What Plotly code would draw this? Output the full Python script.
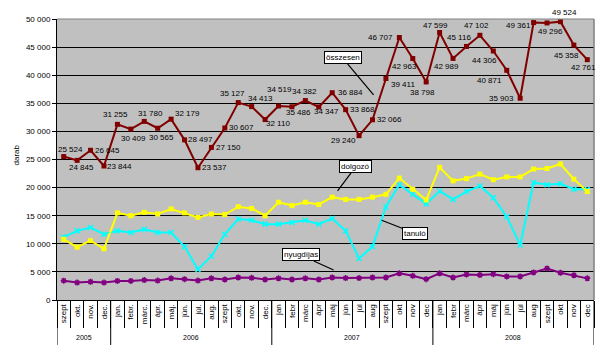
import plotly.graph_objects as go

# ---------------- data ----------------
months = ["szept", "okt.", "nov.", "dec.",
          "jan.", "febr.", "márc.", "ápr.", "máj.", "jún.", "júl.", "aug.", "szept", "okt.", "nov.", "dec.",
          "jan", "febr", "márc", "ápr", "máj", "jún", "júl", "aug", "szept", "okt", "nov", "dec",
          "jan", "febr", "márc", "ápr", "máj", "jún", "júl", "aug", "szept", "okt", "nov", "dec"]
years = ["2005", "2006", "2007", "2008"]
year_sizes = [4, 12, 12, 12]

osszesen = [25524, 24845, 26645, 23844,
            31255, 30409, 31780, 30565, 32179, 28497, 23537, 27150, 30607, 35127, 34413, 32110,
            34519, 34382, 35486, 34347, 36884, 33868, 29240, 32066, 39411, 46707, 42963, 38798,
            47599, 42989, 45116, 47102, 44306, 40871, 35903, 49361, 49296, 49524, 45358, 42761]
dolgozo = [10800, 9400, 10550, 9100,
           15500, 15000, 15600, 15300, 16200, 15500, 14700, 15300, 15200, 16600, 16300, 15000,
           17400, 16800, 17400, 17000, 18300, 17900, 17900, 18300, 18800, 21700, 19700, 17800,
           23600, 21200, 21600, 22400, 21400, 21900, 21900, 23300, 23400, 24200, 21500, 19300]
tanulo = [11200, 12300, 12900, 11700,
          12300, 12000, 12600, 12000, 12000, 9500, 5450, 7800, 11700, 14400, 14200, 13500,
          13500, 13800, 14200, 13500, 14500, 12300, 7400, 9500, 16600, 20500, 18800, 17100,
          19400, 17900, 19300, 20300, 18200, 14800, 9800, 20900, 20500, 20700, 19700, 19700]
nyugdijas = [3440, 3100, 3250, 3100,
             3400, 3400, 3550, 3450, 3850, 3700, 3450, 3850, 3650, 4000, 3950, 3650,
             3850, 3650, 3850, 3650, 4000, 3900, 3900, 4000, 4000, 4750, 4300, 3700,
             4750, 4000, 4550, 4450, 4600, 4200, 4200, 4900, 5600, 4850, 4400, 3850]

# pixel offsets of the total's data labels (style only)
label_offsets = [(7, -7), (4, 7), (17, 0), (16, 0),
                 (-2, -10), (3, 9), (6, -8), (4, 9), (16, -6), (16, 0), (17, 0), (17, 0),
                 (17, 0), (-6, -9), (9, -8), (13, 4),
                 (1, -17), (13, -15), (-7, 12), (8, 5), (18, 0), (17, 0), (-16, 5), (17, 0),
                 (17, 6), (-19, 0), (-8, 8), (-4, 11),
                 (-4, -7), (-7, 8), (-7, -9), (-3, -10), (-9, 9), (-17, 10), (-19, 0), (-15, 3),
                 (3, 9), (4, -9), (-7, 10), (-4, 8)]

FONT = "Liberation Sans, Arial, sans-serif"
x = list(range(len(months)))

fig = go.Figure()
fig.add_trace(go.Scatter(x=x, y=nyugdijas, mode="lines+markers", name="nyugdíjas",
                         line=dict(color="#800080", width=2),
                         marker=dict(symbol="asterisk-open", size=5, color="#800080",
                                     line=dict(color="#800080", width=1.5))))
fig.add_trace(go.Scatter(x=x, y=tanulo, mode="lines+markers", name="tanuló",
                         line=dict(color="#00FFFF", width=2),
                         marker=dict(symbol="x-thin-open", size=5, color="#00FFFF",
                                     line=dict(color="#00FFFF", width=1.5))))
fig.add_trace(go.Scatter(x=x, y=dolgozo, mode="lines+markers", name="dolgozó",
                         line=dict(color="#FFFF00", width=2),
                         marker=dict(symbol="square", size=5, color="#FFFF00")))
fig.add_trace(go.Scatter(x=x, y=osszesen, mode="lines+markers", name="összesen",
                         line=dict(color="#800000", width=2),
                         marker=dict(symbol="square", size=5, color="#800000")))

annotations = []
for i, v in enumerate(osszesen):
    dx, dy = label_offsets[i]
    annotations.append(dict(x=i, y=v, xref="x", yref="y", text=f"{v:,}".replace(",", " "),
                            showarrow=False, xshift=dx, yshift=-dy,
                            font=dict(family=FONT, size=8, color="black")))

# year labels
start = 0
for yr, n in zip(years, year_sizes):
    annotations.append(dict(x=start + (n - 1) / 2, y=-0.135, xref="x", yref="paper",
                            text=yr, showarrow=False, yanchor="middle",
                            font=dict(family=FONT, size=7, color="black")))
    start += n

# y-axis title
annotations.append(dict(x=0, y=0.5, xref="paper", yref="paper", text="darab", textangle=-90,
                        showarrow=False, xanchor="center", yanchor="middle", xshift=-41, yshift=4,
                        font=dict(family=FONT, size=8, color="black")))

# callouts
callouts = [("összesen", 23.08, 36500, -31, -37),
            ("dolgozó", 20.4, 19400, 18, -24),
            ("tanuló", 23.68, 14200, 33, 13),
            ("nyugdíjas", 20.1, 5340, -33, -15)]
for txt, cx, cy, ax, ay in callouts:
    annotations.append(dict(x=cx, y=cy, xref="x", yref="y", text=txt, showarrow=True,
                            arrowhead=0, arrowwidth=1.2, arrowcolor="black", ax=ax, ay=ay,
                            bgcolor="white", bordercolor="black", borderwidth=1, borderpad=1,
                            font=dict(family=FONT, size=8, color="black")))

shapes = []
# year dividers
bounds = [-0.5]
for n in year_sizes:
    bounds.append(bounds[-1] + n)
for b in bounds:
    shapes.append(dict(type="line", xref="x", yref="paper", x0=b, x1=b, y0=0, y1=-0.16,
                       line=dict(color="black", width=1)))
# plot area border (top and right, grey)
shapes.append(dict(type="line", xref="paper", yref="paper", x0=0, x1=1, y0=1, y1=1,
                   line=dict(color="#808080", width=1)))
shapes.append(dict(type="line", xref="paper", yref="paper", x0=1, x1=1, y0=0, y1=1,
                   line=dict(color="#808080", width=1.5)))

# page body has an 8px default margin: size the figure so the plot lands where the reference has it
fig.update_layout(
    template="none",
    width=597, height=349,
    margin=dict(l=49, r=11, t=11, b=57, pad=0),
    paper_bgcolor="white", plot_bgcolor="#C0C0C0",
    showlegend=False,
    separators=", ",
    font=dict(family=FONT, size=8, color="black"),
    annotations=annotations, shapes=shapes,
    xaxis=dict(range=[-0.5, 39.5], tickmode="array", tickvals=x, ticktext=months,
               tickangle=-90, ticks="", showgrid=False, zeroline=False, automargin=False,
               showline=True, linecolor="black", linewidth=1,
               tickfont=dict(family=FONT, size=8, color="black"),
               minor=dict(ticks="outside", tick0=-0.5, dtick=1, ticklen=27,
                          tickcolor="black", tickwidth=1, showgrid=False)),
    yaxis=dict(range=[0, 50000], dtick=5000, tickformat=",d", showgrid=True,
               gridcolor="black", gridwidth=1, zeroline=False, automargin=False,
               showline=True, linecolor="black", linewidth=1,
               ticks="outside", ticklen=4, tickcolor="black",
               tickfont=dict(family=FONT, size=8, color="black")),
)

fig.write_html("out.html")
